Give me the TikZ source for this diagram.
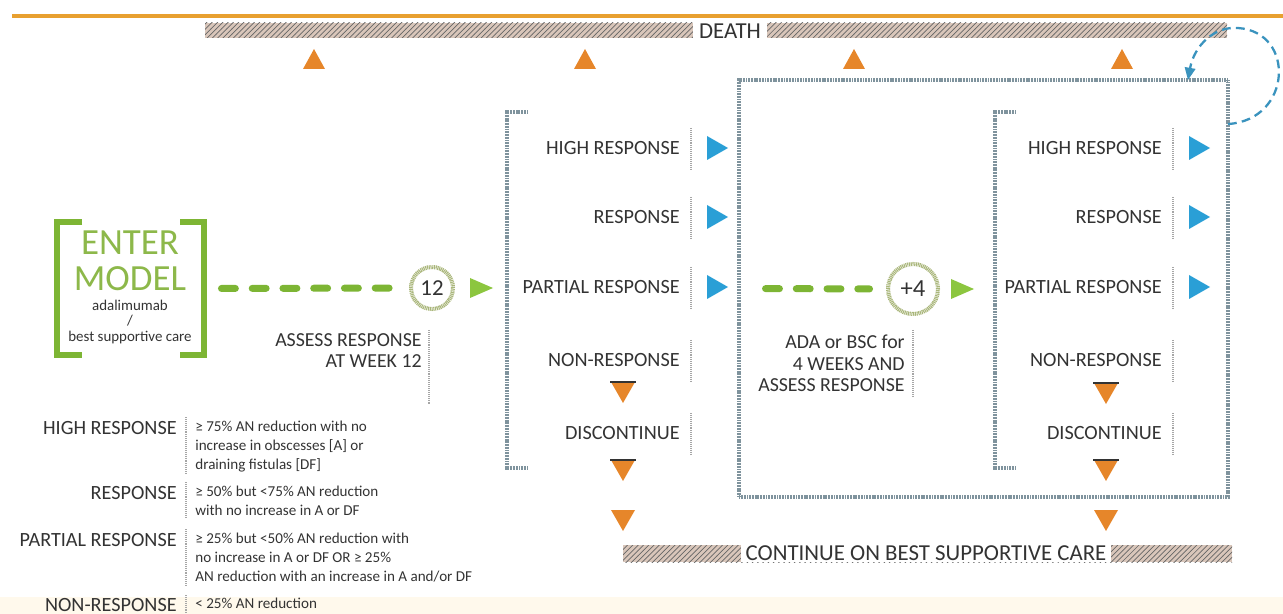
\documentclass[tikz,border=0pt]{standalone}
\usepackage{fontspec}
\setmainfont{Carlito}
\usetikzlibrary{patterns,arrows.meta}
\definecolor{goldline}{HTML}{E8A030}
\definecolor{triorange}{HTML}{E6862A}
\definecolor{triblue}{HTML}{2A9FD6}
\definecolor{trigreen}{HTML}{8CC63F}
\definecolor{dashgreen}{HTML}{7DB534}
\definecolor{entergreen}{HTML}{8DB84A}
\definecolor{labgray}{HTML}{333333}
\definecolor{boxgray}{HTML}{7F939D}
\definecolor{hatchfill}{HTML}{D9C6BA}
\definecolor{loopblue}{HTML}{3A93BE}
\definecolor{ringgreen}{HTML}{A9B67A}
\definecolor{cream}{HTML}{FFF9EC}
\tikzset{
 trup/.pic={\fill[triorange] (-11,10) -- (0,-10) -- (11,10) -- cycle;},
 trdown/.pic={\fill[triorange] (-12,-10) -- (12,-10) -- (0,11) -- cycle;},
 trdownbar/.pic={\fill[triorange] (-12,-10) -- (12,-10) -- (0,11) -- cycle; \draw[labgray,line width=1.1pt] (-13,-10) -- (13,-10);},
 trblue/.pic={\fill[triblue] (-10,-12) -- (11,0) -- (-10,12) -- cycle;},
 trgreen/.pic={\fill[trigreen] (-11,-10) -- (12,0) -- (-11,10) -- cycle;},
}
\begin{document}
\begin{tikzpicture}[x=0.02cm,y=-0.02cm,
  lab/.style={font=\fontsize{11.5}{13}\selectfont,text=labgray,inner sep=0pt,anchor=east},
  desc/.style={font=\fontsize{8.6}{10.8}\selectfont,text=labgray,inner sep=0pt,align=left,anchor=north west},
  note/.style={font=\fontsize{11.3}{12}\selectfont,text=labgray,inner sep=0pt,align=right,anchor=north east},
  sep/.style={draw=gray!70,line width=0.6pt,dash pattern=on 0.4pt off 0.7pt},
  texborder/.style={draw=boxgray,line width=1.9pt,dash pattern=on 0.6pt off 0.3pt},
  gdash/.style={draw=dashgreen,line width=4pt,line cap=round,dash pattern=on 7.9pt off 9.6pt},
  ring/.style={circle,draw=ringgreen,line width=2.3pt,dash pattern=on 0.6pt off 0.4pt,fill=white,inner sep=0pt,outer sep=0pt,text=labgray},
  small/.style={font=\fontsize{8.5}{9}\selectfont,text=labgray,inner sep=0pt},
  big/.style={font=\fontsize{21}{21}\selectfont,text=entergreen,inner sep=0pt},
]
\useasboundingbox (0,0) rectangle (1283,614);
\fill[cream] (0,597) rectangle (1283,614);

% top line and DEATH bar
\fill[hatchfill] (205,23) rectangle (1227,38);
\fill[pattern=north east lines,pattern color=gray!80!black] (205,23) rectangle (1227,38);
\node[fill=white,inner xsep=3.4pt,inner ysep=1pt,font=\fontsize{13}{13}\selectfont,text=labgray] (death) at (730,31) {DEATH};
\draw[goldline,line width=1.8pt] (12,16) -- (1283,16);

\pic at (314,59) {trup};
\pic at (585,59) {trup};
\pic at (854,59) {trup};
\pic at (1122,59) {trup};

% big box
\node[texborder,rectangle,minimum width=9.78cm,minimum height=8.34cm,inner sep=0pt,outer sep=0pt] (box2) at (983.5,288.5) {};

% brackets
\draw[texborder] (528,112) -- (507,112) -- (507,468) -- (528,468);
\draw[texborder] (1016,112) -- (995,112) -- (995,468) -- (1016,468);

% group 1 labels
\node[lab] (ah) at (680,148) {HIGH RESPONSE};
\node[lab] (ar) at (680,217) {RESPONSE};
\node[lab] (ap) at (680,287) {PARTIAL RESPONSE};
\node[lab] (an) at (680,360) {NON-RESPONSE};
\node[lab] (ad) at (680,433) {DISCONTINUE};
\foreach \y in {148,217,287,360,433} \draw[sep] (691,\y-20) -- (691,\y+22);
\pic at (717,148) {trblue};
\pic at (717,217) {trblue};
\pic at (717,287) {trblue};
\pic at (623,392) {trdownbar};
\pic at (623,470) {trdownbar};
\pic at (623,520) {trdown};

% group 2 labels
\node[lab] (bh) at (1162,148) {HIGH RESPONSE};
\node[lab] (br) at (1162,217) {RESPONSE};
\node[lab] (bp) at (1162,287) {PARTIAL RESPONSE};
\node[lab] (bn) at (1162,360) {NON-RESPONSE};
\node[lab] (bd) at (1162,433) {DISCONTINUE};
\foreach \y in {148,217,287,360,433} \draw[sep] (1173,\y-20) -- (1173,\y+22);
\pic at (1199,148) {trblue};
\pic at (1199,217) {trblue};
\pic at (1199,287) {trblue};
\pic at (1106,393) {trdownbar};
\pic at (1106,470) {trdownbar};
\pic at (1106,520) {trdown};

% enter model
\node[inner sep=0pt,outer sep=0pt,minimum width=2.94cm,minimum height=2.66cm] (enter) at (130.5,288.5) {};
\draw[dashgreen,line width=3.4pt] (82,222) -- (57,222) -- (57,355) -- (82,355);
\draw[dashgreen,line width=3.4pt] (180,222) -- (204,222) -- (204,355) -- (180,355);
\node[big] (e1) at (130,243) {ENTER};
\node[big] (e2) at (130,279) {MODEL};
\node[small] (e3) at (130,305) {adalimumab};
\node[small] (e4) at (130,321) {/};
\node[small] (e5) at (130,338) {best supportive care};

% week 12
\node[ring,minimum size=0.84cm,font=\fontsize{13}{13}\selectfont] (c12) at (432,288) {12};
\draw[gdash,shorten <=0.35cm,shorten >=0.39cm] (enter.east) -- (c12.west);
\pic at (481,288) {trgreen};
\node[note] (asr) at (422,333) {ASSESS RESPONSE\\AT WEEK 12};
\draw[sep] (429,330) -- (429,405);

% +4
\node[ring,minimum size=1cm,font=\fontsize{14}{14}\selectfont] (c4) at (913,289) {+4};
\draw[gdash,shorten <=0.53cm,shorten >=0.37cm] (box2.west) -- (c4.west);
\pic at (962,289) {trgreen};
\node[note] (ada) at (905,335) {ADA or BSC for\\4 WEEKS AND\\ASSESS RESPONSE};
\draw[sep] (913,330) -- (913,396);

% loop arrow
\draw[loopblue,line width=1.3pt,dash pattern=on 5pt off 3pt,-{Triangle[length=7pt,width=6pt]}]
  ([yshift=-0.88cm]box2.north east) .. controls (1292,120) and (1296,32) .. (1238,28)
  .. controls (1214,26) and (1194,46) .. ([xshift=-0.8cm]box2.north east);

% continue bar
\fill[hatchfill] (623,545) rectangle (1232,562);
\fill[pattern=north east lines,pattern color=gray!80!black] (623,545) rectangle (1232,562);
\node[fill=white,inner xsep=2.8pt,inner ysep=1pt,font=\fontsize{13}{13}\selectfont,text=labgray] (cont) at (926,553) {CONTINUE ON BEST SUPPORTIVE CARE};

% legend
\node[lab] (lh) at (177,428) {HIGH RESPONSE};
\node[lab] (lr) at (177,493) {RESPONSE};
\node[lab] (lp) at (177,540) {PARTIAL RESPONSE};
\node[lab] (ln) at (177,605) {NON-RESPONSE};
\draw[sep] (186,417) -- (186,474);
\draw[sep] (186,482) -- (186,518);
\draw[sep] (186,529) -- (186,586);
\draw[sep] (186,595) -- (186,614);
\node[desc] (dh) at (195,421) {≥ 75\% AN reduction with no\\increase in obscesses [A] or\\draining fistulas [DF]};
\node[desc] (dr) at (195,486) {≥ 50\% but <75\% AN reduction\\with no increase in A or DF};
\node[desc] (dp) at (195,533) {≥ 25\% but <50\% AN reduction with\\no increase in A or DF OR ≥ 25\%\\AN reduction with an increase in A and/or DF};
\node[desc] (dn) at (195,598) {< 25\% AN reduction};
\end{tikzpicture}
\end{document}
